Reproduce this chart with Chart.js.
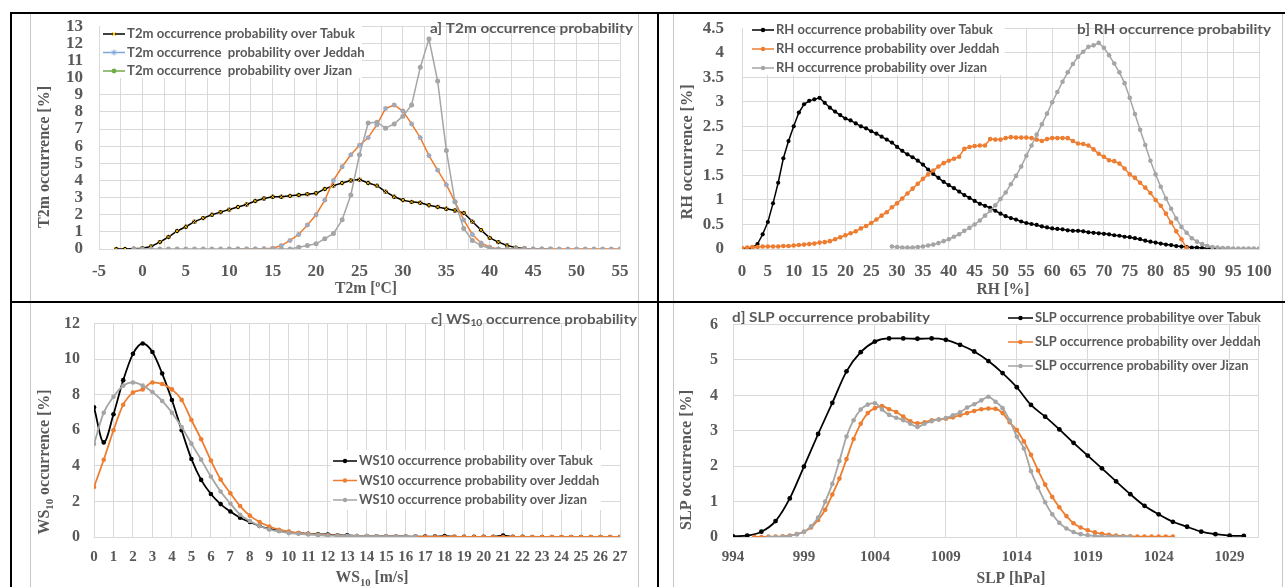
<!DOCTYPE html>
<html lang="en">
  <head>
    <meta charset="UTF-8" />
    <script src="https://cdn.jsdelivr.net/npm/chart.js@4.4.1/dist/chart.umd.min.js"></script>
    <title>Occurrence probability</title>
    <style>
      body { margin: 0; background: #fff; }
      #wrap { position: relative; width: 1285px; height: 587px; overflow: hidden; }
      #wrap canvas { position: absolute; }
      .ln { position: absolute; }
    </style>
  </head>
  <body>
    <div id="wrap">
      <!-- frame -->
      <div class="ln" style="left:30px;top:13px;width:1px;height:574px;background:#c8c8c8"></div>
      <div class="ln" style="left:638px;top:13px;width:1px;height:574px;background:#c8c8c8"></div>
      <div class="ln" style="left:673px;top:13px;width:1px;height:574px;background:#c8c8c8"></div>
      <div class="ln" style="left:1282px;top:13px;width:1px;height:574px;background:#c8c8c8"></div>
      <div class="ln" style="left:10px;top:12px;width:1275px;height:2px;background:#000"></div>
      <div class="ln" style="left:10px;top:12px;width:2px;height:575px;background:#000"></div>
      <div class="ln" style="left:657px;top:12px;width:2px;height:575px;background:#000"></div>
      <div class="ln" style="left:10px;top:301px;width:1275px;height:2px;background:#000"></div>

      <canvas id="cA" width="655" height="300" style="left:0;top:0"></canvas>
      <canvas id="cB" width="630" height="300" style="left:655px;top:0"></canvas>
      <canvas id="cC" width="655" height="287" style="left:0;top:300px"></canvas>
      <canvas id="cD" width="630" height="287" style="left:655px;top:300px"></canvas>
    </div>
    <script>
      // ---- a) T2m, 1 degC bins ----
      const t2mTicks = [-5, -2.5, 0, 2.5, 5, 7.5, 10, 12.5, 15, 17.5, 20, 22.5, 25, 27.5, 30, 32.5, 35, 37.5, 40, 42.5, 45, 47.5, 50, 52.5, 55];
      const t2mLabels = [-5, 0, 5, 10, 15, 20, 25, 30, 35, 40, 45, 50, 55];
      const t2mTabukStart = -3;
      const t2mTabuk = [0, 0, 0.02, 0.05, 0.15, 0.4, 0.7, 1.05, 1.3, 1.6, 1.8, 2.0, 2.15, 2.3, 2.45, 2.6, 2.8, 2.95,
        3.05, 3.05, 3.1, 3.15, 3.2, 3.25, 3.5, 3.7, 3.85, 4.0, 4.05, 3.85, 3.7, 3.35, 3.05, 2.85, 2.75, 2.7, 2.55,
        2.45, 2.35, 2.25, 2.1, 1.6, 1.1, 0.65, 0.4, 0.2, 0.08, 0.03, 0, 0, 0];
      const t2mJeddahStart = 10;
      const t2mJeddah = [0, 0, 0, 0, 0.02, 0.05, 0.2, 0.5, 0.85, 1.4, 2.0, 2.85, 4.0, 4.8, 5.5, 6.05, 6.5, 7.25, 8.2,
        8.4, 8.05, 7.3, 6.5, 5.45, 4.6, 3.75, 2.75, 1.7, 0.85, 0.35, 0.1, 0, 0, 0, 0, 0, 0, 0, 0, 0, 0, 0, 0, 0, 0, 0];
      const t2mJizanStart = -1;
      const t2mJizan = [0, 0, 0, 0, 0, 0, 0, 0, 0, 0, 0, 0, 0, 0, 0, 0, 0, 0, 0, 0.1, 0.2, 0.3, 0.6, 0.9, 1.7, 3.15,
        5.5, 7.35, 7.4, 7.05, 7.3, 7.75, 8.4, 10.6, 12.25, 9.8, 5.75, 2.75, 1.2, 0.5, 0.2, 0.05, 0, 0, 0, 0, 0, 0, 0];

      // ---- b) RH, 1 % bins ----
      const rhTicks = [0, 5, 10, 15, 20, 25, 30, 35, 40, 45, 50, 55, 60, 65, 70, 75, 80, 85, 90, 95, 100];
      const rhTabukStart = 0;
      const rhTabuk = [0, 0.01, 0.03, 0.1, 0.3, 0.55, 0.93, 1.35, 1.85, 2.2,
        2.5, 2.78, 2.95, 3.02, 3.05, 3.08, 2.98, 2.88, 2.8, 2.73,
        2.66, 2.62, 2.56, 2.5, 2.46, 2.4, 2.35, 2.29, 2.23, 2.17,
        2.08, 2.0, 1.93, 1.87, 1.8, 1.72, 1.62, 1.53, 1.45, 1.37,
        1.3, 1.24, 1.17, 1.1, 1.04, 0.98, 0.92, 0.88, 0.84, 0.78,
        0.72, 0.67, 0.63, 0.6, 0.56, 0.53, 0.51, 0.49, 0.46, 0.44,
        0.42, 0.41, 0.4, 0.38, 0.37, 0.37, 0.36, 0.34, 0.33, 0.32,
        0.31, 0.3, 0.28, 0.27, 0.25, 0.24, 0.22, 0.2, 0.17, 0.15,
        0.13, 0.11, 0.09, 0.08, 0.06, 0.05, 0.04, 0.03, 0.03, 0.02,
        0.02, 0.01, 0.01, 0, 0];
      const rhJeddahStart = 0;
      const rhJeddah = [0.02, 0.03, 0.04, 0.04, 0.05, 0.05, 0.05, 0.05, 0.06, 0.06,
        0.07, 0.08, 0.09, 0.1, 0.11, 0.13, 0.14, 0.16, 0.2, 0.24,
        0.28, 0.32, 0.36, 0.42, 0.47, 0.53, 0.6, 0.68, 0.75, 0.85,
        0.93, 1.03, 1.13, 1.23, 1.33, 1.43, 1.52, 1.6, 1.68, 1.75,
        1.8, 1.84, 1.88, 2.04, 2.08, 2.1, 2.11, 2.11, 2.24, 2.23,
        2.23, 2.26, 2.28, 2.27, 2.27, 2.27, 2.26, 2.23, 2.2, 2.24,
        2.26, 2.26, 2.26, 2.26, 2.2, 2.15, 2.14, 2.11, 2.03, 1.94,
        1.88, 1.81, 1.79, 1.74, 1.64, 1.52, 1.45, 1.35, 1.25, 1.14,
        1.0, 0.88, 0.72, 0.54, 0.36, 0.2, 0.02];
      const rhJizanStart = 29;
      const rhJizan = [0.05,
        0.04, 0.03, 0.03, 0.03, 0.04, 0.05, 0.07, 0.09, 0.12, 0.16,
        0.2, 0.25, 0.3, 0.37, 0.43, 0.5, 0.58, 0.68, 0.78, 0.89,
        1.02, 1.15, 1.32, 1.49, 1.68, 1.9, 2.11, 2.33, 2.54, 2.76,
        2.99, 3.2, 3.41, 3.6, 3.77, 3.92, 4.02, 4.12, 4.15, 4.2,
        4.1, 3.95, 3.78, 3.6, 3.38, 3.08, 2.75, 2.43, 2.12, 1.8,
        1.52, 1.27, 1.03, 0.82, 0.62, 0.45, 0.33, 0.22, 0.15, 0.1,
        0.06, 0.04, 0.03, 0.02, 0.02, 0.01, 0.01, 0.01, 0.01, 0.01, 0.01];

      // ---- c) WS10, 0.5 m/s bins ----
      const wsTicks = [0, 1, 2, 3, 4, 5, 6, 7, 8, 9, 10, 11, 12, 13, 14, 15, 16, 17, 18, 19, 20, 21, 22, 23, 24, 25, 26, 27];
      const wsTabuk = [7.29, 5.32, 6.9, 8.82, 10.3, 10.88, 10.4, 9.19, 7.7, 6.0,
        4.39, 3.21, 2.42, 1.85, 1.43, 1.08, 0.84, 0.62, 0.45, 0.35,
        0.28, 0.22, 0.18, 0.15, 0.14, 0.1, 0.09, 0.06, 0.05, 0.04,
        0.04, 0.03, 0.03, 0.02, 0.02, 0.02, 0.05, 0.01, 0.01, 0.01,
        0.01, 0.01, 0.08, 0.01, 0.01, 0, 0, 0, 0, 0,
        0, 0, 0, 0, 0];
      const wsJeddah = [2.81, 4.34, 6.0, 7.44, 8.12, 8.3, 8.69, 8.6, 8.3, 7.71,
        6.58, 5.5, 4.3, 3.23, 2.46, 1.74, 1.2, 0.84, 0.59, 0.41,
        0.3, 0.22, 0.17, 0.13, 0.1, 0.08, 0.06, 0.05, 0.04, 0.03,
        0.02, 0.02, 0.01, 0.01, 0, 0, 0, 0, 0, 0,
        0, 0, 0, 0, 0, 0, 0, 0, 0, 0,
        0, 0, 0, 0, 0];
      const wsJizan = [5.23, 6.99, 7.89, 8.51, 8.69, 8.51, 8.15, 7.65, 6.99, 6.18,
        5.25, 4.35, 3.4, 2.56, 1.88, 1.25, 0.9, 0.62, 0.42, 0.32,
        0.22, 0.18, 0.14, 0.11, 0.08, 0.07, 0.06, 0.05, 0.05, 0.04,
        0.04, 0.03, 0.03, 0.02];

      // ---- d) SLP ----
      const slpTicks = [994, 999, 1004, 1009, 1014, 1019, 1024, 1029];
      const slpMax = 1031;
      const slpTabukStart = 994;
      const slpTabuk = [0.02, 0.04, 0.15, 0.45, 1.09, 1.99, 2.91, 3.79, 4.68, 5.22, 5.52, 5.61, 5.61, 5.6, 5.61, 5.57,
        5.43, 5.24, 4.97, 4.63, 4.23, 3.73, 3.4, 3.04, 2.66, 2.3, 1.94, 1.57, 1.21, 0.88, 0.64, 0.43, 0.29, 0.15, 0.08,
        0.04, 0.03];
      const slpJeddahStart = 995.5;
      const slpJeddah = [0, 0, 0.01, 0.01, 0.02, 0.04, 0.08, 0.15, 0.27, 0.48,
        0.77, 1.2, 1.65, 2.2, 2.77, 3.2, 3.5, 3.64, 3.7, 3.61,
        3.53, 3.4, 3.27, 3.21, 3.24, 3.3, 3.32, 3.34, 3.38, 3.44,
        3.5, 3.56, 3.61, 3.63, 3.62, 3.5, 3.24, 3.02, 2.7, 2.32,
        1.88, 1.48, 1.13, 0.84, 0.59, 0.39, 0.27, 0.19, 0.13, 0.09,
        0.06, 0.04, 0.03, 0.02, 0.01, 0.01, 0.01, 0.01, 0.01, 0.01];
      const slpJizanStart = 996.5;
      const slpJizan = [0, 0, 0.01, 0.03, 0.08, 0.15, 0.3, 0.55, 1.0, 1.5,
        2.15, 2.84, 3.3, 3.6, 3.74, 3.78, 3.6, 3.45, 3.37, 3.3,
        3.2, 3.11, 3.2, 3.27, 3.32, 3.36, 3.44, 3.52, 3.66, 3.75,
        3.86, 3.96, 3.82, 3.64, 3.29, 2.84, 2.5, 1.86, 1.4, 0.98,
        0.64, 0.4, 0.24, 0.14, 0.08, 0.05, 0.03, 0.02, 0.01, 0.01,
        0.01, 0.01];

      const BLACK = "#000000", ORANGE = "#ED7D31", GRAY = "#A5A5A5", GRID = "#d9d9d9", TXT = "#595959";
      const SERIF = '"Liberation Serif", "Times New Roman", serif';
      const SANS = 'Lato, "Open Sans", sans-serif';

      function line(label, start, step, ys, color, r, order, extra) {
        return Object.assign({
          label: label,
          data: ys.map((y, i) => ({ x: start + i * step, y: y })),
          borderColor: color, backgroundColor: color,
          pointBackgroundColor: color, pointBorderColor: color,
          borderWidth: 1.5, pointRadius: r, pointHoverRadius: r, pointBorderWidth: 0,
          order: order, tension: 0
        }, extra || {});
      }
      function marks(start, step, ys, style, color, r, order) {
        return {
          data: ys.map((y, i) => ({ x: start + i * step, y: y })),
          showLine: false, pointStyle: style, pointRadius: r, pointHoverRadius: r,
          pointBorderColor: color, pointBackgroundColor: color, pointBorderWidth: 1, order: order
        };
      }

      // text with optional subscript parts; fitW stretches it horizontally to a given width
      function drawText(ctx, parts, x, y, size, family, color, align, rot, fitW) {
        if (typeof parts === "string") parts = [{ t: parts }];
        ctx.save();
        ctx.translate(x, y);
        if (rot) ctx.rotate(rot);
        ctx.fillStyle = color;
        ctx.textBaseline = "middle";
        ctx.textAlign = "left";
        const f = p => "bold " + (p.sub ? size * 0.68 : size) + "px " + family;
        let total = 0;
        const ws = parts.map(p => { ctx.font = f(p); const w = ctx.measureText(p.t).width; total += w; return w; });
        const sx = typeof fitW === "number" ? fitW / total : (fitW ? fitW.sx : 1);
        ctx.scale(sx, 1);
        let cx = align === "center" ? -total / 2 : align === "right" ? -total : 0;
        parts.forEach((p, i) => { ctx.font = f(p); ctx.fillText(p.t, cx, p.sub ? size * 0.3 : 0); cx += ws[i]; });
        ctx.restore();
        return sx;
      }

      // legend, panel title and axis titles
      function decor(d) {
        return {
          id: "decor",
          beforeDatasetsDraw(chart) {
            const ctx = chart.ctx;
            ctx.save();
            if (d.box) { ctx.fillStyle = "#fff"; ctx.fillRect(d.box[0], d.box[1], d.box[2], d.box[3]); }
            let sx = null;
            d.legend.forEach((it, i) => {
              const y = d.ly + i * d.lgap;
              ctx.strokeStyle = it.c; ctx.lineWidth = 1.5;
              ctx.beginPath(); ctx.moveTo(d.lx, y); ctx.lineTo(d.lx + d.llen, y); ctx.stroke();
              ctx.strokeStyle = it.mc || it.c; ctx.fillStyle = it.mc || it.c; ctx.lineWidth = 1;
              Chart.helpers.drawPoint(ctx, { pointStyle: it.s || "circle", radius: it.r || 2.2, borderWidth: it.s ? 1 : 0 }, d.lx + d.llen / 2, y);
              const s = drawText(ctx, it.t, d.lx + d.llen + 2, y, d.lsize, SANS, TXT, "left", 0, sx === null ? d.lw : { sx: sx });
              if (sx === null) sx = s;
            });
            ctx.restore();
          },
          afterDraw(chart) {
            const ctx = chart.ctx;
            drawText(ctx, d.title, d.tx, d.ty, d.tsize, SANS, TXT, d.talign, 0, d.tw);
            drawText(ctx, d.ytitle, d.yx, d.yy, 16, SERIF, TXT, "center", -Math.PI / 2, d.yw);
            drawText(ctx, d.xtitle, d.xx, d.xy, 16, SERIF, TXT, "center", 0, d.xw);
          }
        };
      }

      function makeChart(id, w, h, area, xs, ys, datasets, d) {
        const axisFont = { family: SERIF, size: xs.size, weight: "bold" };
        return new Chart(document.getElementById(id), {
          type: "line",
          data: { datasets: datasets },
          options: {
            responsive: false, animation: false, devicePixelRatio: 1,
            layout: { padding: { left: 0, top: area.top, right: w - area.right, bottom: 0 } },
            plugins: { legend: { display: false }, tooltip: { enabled: false } },
            elements: { line: { cubicInterpolationMode: xs.smooth ? "monotone" : "default" } },
            scales: {
              x: {
                type: "linear", min: xs.min, max: xs.max,
                afterFit: s => { s.height = h - area.bottom; },
                afterBuildTicks: s => { s.ticks = xs.ticks.map(v => ({ value: v })); },
                grid: { color: GRID, drawTicks: false }, border: { color: GRID },
                ticks: {
                  autoSkip: false, maxRotation: 0, minRotation: 0, padding: xs.pad, color: TXT, font: axisFont,
                  callback: v => (xs.labels ? (xs.labels.includes(v) ? String(v) : "") : String(v))
                }
              },
              y: {
                min: ys.min, max: ys.max,
                afterFit: s => { s.width = area.left; },
                afterBuildTicks: s => { s.ticks = ys.ticks.map(v => ({ value: v })); },
                grid: { color: GRID, drawTicks: false }, border: { color: GRID },
                ticks: { autoSkip: false, padding: ys.pad, color: TXT, font: { family: SERIF, size: ys.size || xs.size, weight: "bold" }, callback: v => String(v) }
              }
            }
          },
          plugins: [decor(d)]
        });
      }

      const ticksFrom = (a, b, s) => { const t = []; for (let v = a; v <= b + 1e-9; v += s) t.push(Math.round(v * 10) / 10); return t; };

      // a) T2m
      makeChart("cA", 655, 300, { left: 99, top: 25, right: 620, bottom: 249 },
        { min: -5, max: 55, ticks: t2mTicks, labels: t2mLabels, pad: 12, size: 17 },
        { min: 0, max: 13, ticks: ticksFrom(0, 13, 1), pad: 16, size: 17 },
        [
          line("T2m occurrence probability over Tabuk", t2mTabukStart, 1, t2mTabuk, BLACK, 2.2, 6),
          marks(t2mTabukStart, 1, t2mTabuk, "crossRot", "#FFC000", 2.6, 5),
          line("T2m occurrence  probability over Jeddah", t2mJeddahStart, 1, t2mJeddah, ORANGE, 2.2, 4),
          marks(t2mJeddahStart, 1, t2mJeddah, "star", "#8DB4E2", 2.6, 3),
          line("T2m occurrence  probability over Jizan", t2mJizanStart, 1, t2mJizan, GRAY, 2.5, 2)
        ],
        {
          box: [100, 26, 262, 52], lx: 103, ly: 34, lgap: 18.5, llen: 22, lsize: 12.5, lw: 228,
          legend: [
            { t: "T2m occurrence probability over Tabuk", c: BLACK, s: "crossRot", mc: "#FFC000", r: 3 },
            { t: "T2m occurrence  probability over Jeddah", c: "#7FA7D8", s: "star", r: 3 },
            { t: "T2m occurrence  probability over Jizan", c: "#70AD47", r: 2.4 }
          ],
          title: "a] T2m occurrence probability", tx: 633, ty: 28, tsize: 14, talign: "right", tw: 203,
          ytitle: "T2m occurrence [%]", yx: 45, yy: 157, yw: 142,
          xtitle: "T2m [ºC]", xx: 366, xy: 289, xw: 62
        });

      // b) RH
      makeChart("cB", 630, 300, { left: 87, top: 25, right: 604, bottom: 249 },
        { min: 0, max: 100, ticks: rhTicks, pad: 12, size: 17 },
        { min: 0, max: 4.5, ticks: ticksFrom(0, 4.5, 0.5), pad: 18, size: 17 },
        [
          line("RH occurrence probability over Tabuk", rhTabukStart, 1, rhTabuk, BLACK, 2.1, 3),
          line("RH occurrence probability over Jeddah", rhJeddahStart, 1, rhJeddah, ORANGE, 2.3, 2),
          line("RH occurrence probability over Jizan", rhJizanStart, 1, rhJizan, GRAY, 2.3, 1)
        ],
        {
          box: [88, 26, 262, 49], lx: 97, ly: 30, lgap: 19, llen: 22, lsize: 12.5, lw: 217,
          legend: [
            { t: "RH occurrence probability over Tabuk", c: BLACK },
            { t: "RH occurrence probability over Jeddah", c: ORANGE },
            { t: "RH occurrence probability over Jizan", c: GRAY }
          ],
          title: "b] RH occurrence probability", tx: 616, ty: 29, tsize: 14, talign: "right", tw: 194,
          ytitle: "RH occurrence [%]", yx: 33, yy: 152, yw: 135,
          xtitle: "RH [%]", xx: 348, xy: 290, xw: 53
        });

      // c) WS10
      makeChart("cC", 655, 287, { left: 94, top: 13, right: 620, bottom: 237 },
        { min: 0, max: 27, ticks: wsTicks, pad: 11, size: 15, smooth: true },
        { min: 0, max: 12, ticks: ticksFrom(0, 12, 2), pad: 14, size: 16 },
        [
          line("WS10 occurrence probability over Tabuk", 0, 0.5, wsTabuk, BLACK, 2.3, 3, { borderWidth: 1.8, tension: 0.35 }),
          line("WS10 occurrence probability over Jeddah", 0, 0.5, wsJeddah, ORANGE, 2.3, 2, { borderWidth: 1.8, tension: 0.35 }),
          line("WS10 occurrence probability over Jizan", 0, 0.5, wsJizan, GRAY, 2.3, 1, { borderWidth: 1.8, tension: 0.35 })
        ],
        {
          box: [331, 150, 270, 60], lx: 333, ly: 161, lgap: 19.5, llen: 24, lsize: 12.5, lw: 234,
          legend: [
            { t: "WS10 occurrence probability over Tabuk", c: BLACK },
            { t: "WS10 occurrence probability over Jeddah", c: ORANGE },
            { t: "WS10 occurrence probability over Jizan", c: GRAY }
          ],
          title: [{ t: "c] WS" }, { t: "10", sub: true }, { t: " occurrence probability" }], tx: 637, ty: 19, tsize: 14, talign: "right", tw: 206,
          ytitle: [{ t: "WS" }, { t: "10", sub: true }, { t: " occurrence [%]" }], yx: 45, yy: 162, yw: 145,
          xtitle: [{ t: "WS" }, { t: "10", sub: true }, { t: " [m/s]" }], xx: 372, xy: 278, xw: 73
        });

      // d) SLP
      makeChart("cD", 630, 287, { left: 78, top: 13, right: 603, bottom: 237 },
        { min: 994, max: slpMax, ticks: slpTicks.concat([slpMax]), labels: slpTicks, pad: 11, size: 15, smooth: true },
        { min: 0, max: 6, ticks: ticksFrom(0, 6, 1), pad: 15, size: 16 },
        [
          line("SLP occurrence probabilitye over Tabuk", slpTabukStart, 1, slpTabuk, BLACK, 2.4, 3, { borderWidth: 1.8, tension: 0.35 }),
          line("SLP occurrence probability over Jeddah", slpJeddahStart, 0.5, slpJeddah, ORANGE, 2.3, 2, { borderWidth: 1.8, tension: 0.35 }),
          line("SLP occurrence probability over Jizan", slpJizanStart, 0.5, slpJizan, GRAY, 2.3, 1, { borderWidth: 1.8, tension: 0.35 })
        ],
        {
          box: null, lx: 353, ly: 18, lgap: 24, llen: 25, lsize: 12.5, lw: 226,
          legend: [
            { t: "SLP occurrence probabilitye over Tabuk", c: BLACK },
            { t: "SLP occurrence probability over Jeddah", c: ORANGE },
            { t: "SLP occurrence probability over Jizan", c: GRAY }
          ],
          title: "d] SLP occurrence probability", tx: 77, ty: 17, tsize: 14, talign: "left", tw: 198,
          ytitle: "SLP occurrence [%]", yx: 32, yy: 160, yw: 140,
          xtitle: "SLP [hPa]", xx: 356, xy: 279, xw: 69
        });
    </script>
  </body>
</html>
